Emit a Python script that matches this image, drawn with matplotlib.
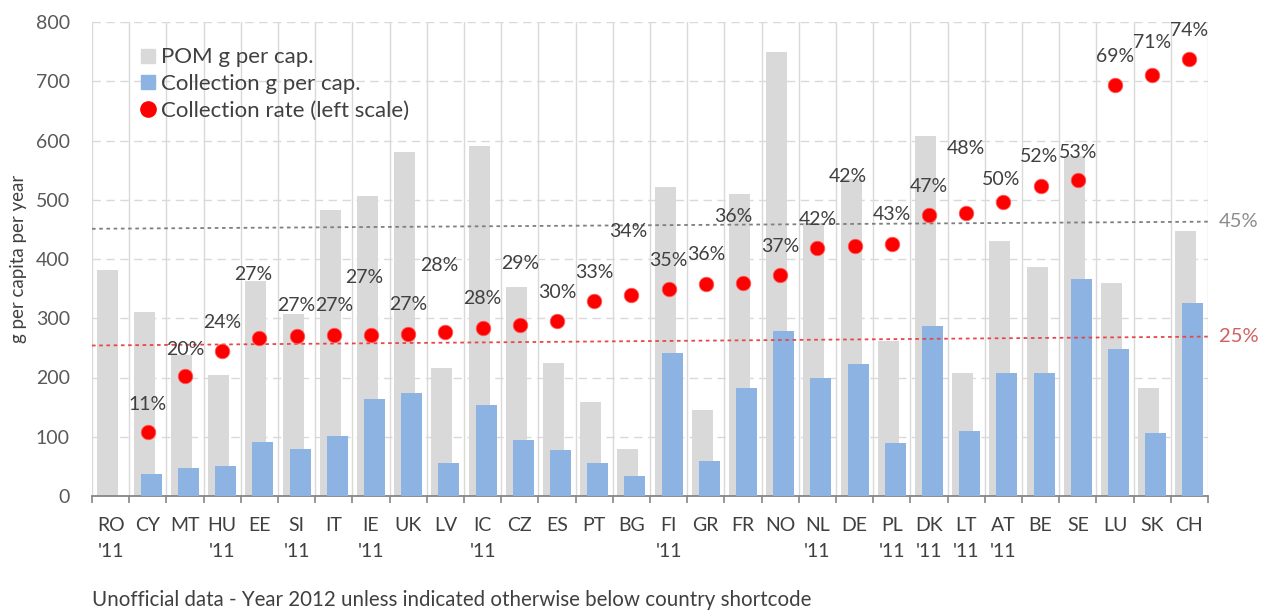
import numpy as np
import matplotlib
matplotlib.use("Agg")
import matplotlib.pyplot as plt
from matplotlib.lines import Line2D

plt.rcParams['font.family'] = ['Lato', 'DejaVu Sans']

countries = ["RO", "CY", "MT", "HU", "EE", "SI", "IT", "IE", "UK", "LV", "IC", "CZ", "ES", "PT", "BG",
             "FI", "GR", "FR", "NO", "NL", "DE", "PL", "DK", "LT", "AT", "BE", "SE", "LU", "SK", "CH"]
years = ["'11", "", "", "'11", "", "'11", "", "'11", "", "", "'11", "", "", "", "",
         "'11", "", "", "", "'11", "", "'11", "'11", "'11", "'11", "", "", "", "", ""]
pom = [382, 311, 238, 204, 363, 308, 482, 506, 581, 216, 590, 353, 225, 159, 80,
       522, 145, 510, 750, 460, 535, 262, 608, 207, 431, 387, 573, 360, 183, 447]
collection = [0, 37, 47, 51, 91, 80, 101, 163, 173, 56, 153, 95, 77, 56, 34,
              241, 59, 182, 278, 200, 222, 89, 287, 110, 207, 207, 366, 248, 107, 326]
rate_pct = [np.nan, 10.8, 20.2, 24.4, 26.6, 27.0, 27.1, 27.1, 27.4, 27.6, 28.4, 28.9, 29.6, 32.9, 33.9,
            34.9, 35.8, 35.9, 37.3, 41.9, 42.2, 42.6, 47.4, 47.7, 49.7, 52.4, 53.4, 69.4, 71.1, 73.8]
# label placement (data units / category units)
label_y = [np.nan, 155, 248, 292, 373, 321, 321, 369, 323, 389, 333, 392, 344, 377, 446,
           398, 407, 471, 421, 466, 539, 475, 522, 586, 535, 573, 580, 742, 766, 785]
label_dx = [0, 0, 0, 0, -0.16, 0, 0, -0.19, 0, -0.16, 0, 0, 0, 0, -0.08,
            0, 0, -0.27, 0, 0, -0.19, 0, 0, 0, -0.05, -0.03, 0, 0, 0, 0]
target45 = [451, 463]
target25 = [254, 269]

fig = plt.figure(figsize=(12.64, 6.12), dpi=100)
ax = fig.add_axes([92/1264, 1-496/612, (1208-92)/1264, (496-22)/612])

n = len(countries)
x = np.arange(n)
ax.bar(x - 0.094, pom, width=0.56, color='#D9D9D9', zorder=2, label='POM g per cap.')
ax.bar(x + 0.094, collection, width=0.56, color='#8DB3E2', zorder=3, label='Collection g per cap.')
rate_scaled = np.array(rate_pct) * 10
ax.scatter(x, rate_scaled, s=110, color='#FF0000', edgecolor='#FF6060', linewidth=0.6, zorder=5,
           label='Collection rate (left scale)')

for i in range(n):
    if np.isnan(rate_pct[i]):
        continue
    ax.text(i + label_dx[i], label_y[i], f"{int(round(rate_pct[i]))}%", ha='center', va='center',
            fontsize=14, color='#404040', zorder=6)

ax.plot([-0.5, n - 0.5], target45, color='#7F7F7F', linestyle=(0, (2, 2)), linewidth=1.3, zorder=4)
ax.plot([-0.5, n - 0.5], target25, color='#E8474A', linestyle=(0, (2, 2)), linewidth=1.3, zorder=4)
ax.text(n - 0.2, target45[1], "45%", ha='left', va='center', fontsize=14.5, color='#8C8C8C',
        clip_on=False)
ax.text(n - 0.2, target25[1], "25%", ha='left', va='center', fontsize=14.5, color='#D0605E',
        clip_on=False)

ax.set_xlim(-0.5, n - 0.5)
ax.set_ylim(0, 800)
ax.set_yticks(np.arange(0, 801, 100))
ax.tick_params(axis='y', length=0, labelsize=14, labelcolor='#595959', pad=16)
ax.yaxis.grid(True, color='#D9D9D9', linestyle=(0, (6, 4)), linewidth=1.0, zorder=0)

ax.set_xticks(np.arange(-0.5, n, 1.0))
ax.set_xticklabels([])
ax.set_xticks(x, minor=True)
ax.set_xticklabels([c + ("\n" + y if y else "\n") for c, y in zip(countries, years)], minor=True)
ax.tick_params(axis='x', which='major', length=5, color='#868686', width=1.2)
ax.tick_params(axis='x', which='minor', length=0, labelsize=14, labelcolor='#404040', pad=15)
ax.xaxis.grid(True, which='major', color='#D9D9D9', linestyle='-', linewidth=1.0, zorder=0)
ax.set_axisbelow(True)
for lbl in ax.get_xticklabels(minor=True):
    lbl.set_linespacing(1.65)

for s in ['top', 'left', 'right']:
    ax.spines[s].set_visible(False)
ax.spines['bottom'].set_color('#868686')
ax.spines['bottom'].set_linewidth(1.3)

ax.set_ylabel("g per capita per year", fontsize=13.5, color='#404040', labelpad=6)

handles = [Line2D([], [], marker='s', linestyle='none', markersize=10, color='#D9D9D9'),
           Line2D([], [], marker='s', linestyle='none', markersize=10, color='#8DB3E2'),
           Line2D([], [], marker='o', linestyle='none', markersize=11, color='#FF0000')]
ax.legend(handles, ['POM g per cap.', 'Collection g per cap.', 'Collection rate (left scale)'],
          loc='upper left', bbox_to_anchor=(0.035, 0.965), frameon=False, fontsize=16,
          handlelength=0.7, handletextpad=0.25, labelspacing=0.3, borderaxespad=0, labelcolor='#404040')

fig.text(92/1264, 1-600/612, "Unofficial data - Year 2012 unless indicated otherwise below country shortcode",
         fontsize=14.8, color='#404040', ha='left', va='center')

fig.savefig("out.png", dpi=100)
